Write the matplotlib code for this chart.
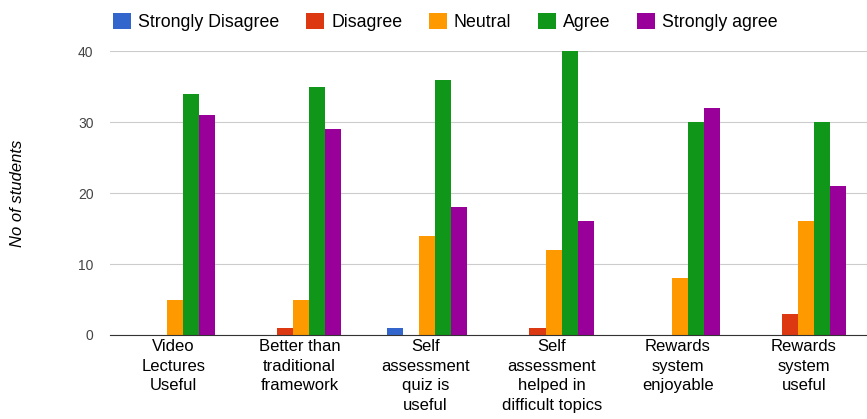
import numpy as np
import matplotlib.pyplot as plt

plt.rcParams['font.family'] = ['Liberation Sans', 'DejaVu Sans']

categories = ['Video\nLectures\nUseful', 'Better than\ntraditional\nframework',
              'Self\nassessment\nquiz is\nuseful', 'Self\nassessment\nhelped in\ndifficult topics',
              'Rewards\nsystem\nenjoyable', 'Rewards\nsystem\nuseful']
series_names = ['Strongly Disagree', 'Disagree', 'Neutral', 'Agree', 'Strongly agree']
strongly_disagree = [0, 0, 1, 0, 0, 0]
disagree = [0, 1, 0, 1, 0, 3]
neutral = [5, 5, 14, 12, 8, 16]
agree = [34, 35, 36, 40, 30, 30]
strongly_agree = [31, 29, 18, 16, 32, 21]

colors = ['#3366cc', '#dc3912', '#ff9900', '#109618', '#990099']
series = [strongly_disagree, disagree, neutral, agree, strongly_agree]

fig = plt.figure(figsize=(8.67, 4.19), dpi=100)
ax = fig.add_axes([0.127, 0.2005, 0.873, 0.6775])

x = np.arange(len(categories))
w = 0.127
for i, (name, vals) in enumerate(zip(series_names, series)):
    ax.bar(x + (i - 2) * w + 0.015, vals, width=w, color=colors[i], label=name, zorder=3)

ax.set_xlim(-0.5, len(categories) - 0.5)
ax.set_ylim(0, 40)
ax.set_yticks([0, 10, 20, 30, 40])
ax.yaxis.grid(True, color='#cccccc', linewidth=0.8, zorder=0)
for s in ['top', 'right', 'left']:
    ax.spines[s].set_visible(False)
ax.spines['bottom'].set_color('#333333')
ax.spines['bottom'].set_zorder(4)
ax.tick_params(axis='y', length=0, labelsize=10, labelcolor='#444444', pad=12)
ax.tick_params(axis='x', length=0, labelsize=12, pad=3)
ax.set_xticks(x)
ax.set_xticklabels(categories, linespacing=1.38)
ax.set_ylabel('No of students', fontsize=12, style='italic')
ax.yaxis.set_label_coords(-0.112, 0.5)

ax.legend(loc='lower left', bbox_to_anchor=(-0.005, 1.045), ncol=5, frameon=False,
          fontsize=12.8, handlelength=1.0, handleheight=1.0, handletextpad=0.4,
          columnspacing=1.5, borderaxespad=0)

fig.savefig('out.png', dpi=100)
